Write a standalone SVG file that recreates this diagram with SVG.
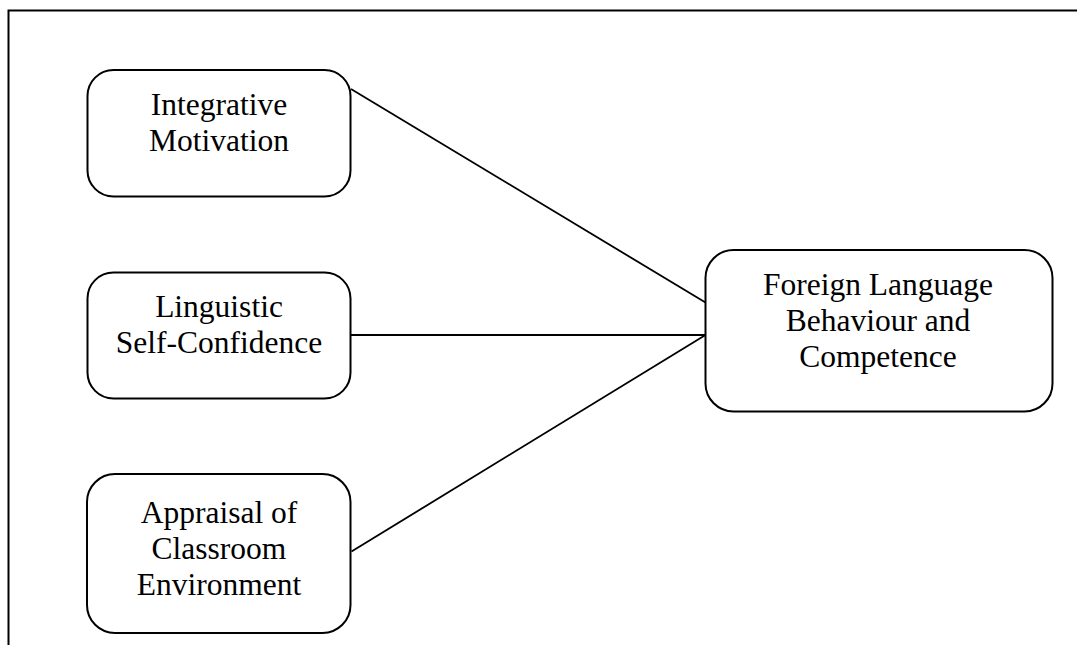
<svg xmlns="http://www.w3.org/2000/svg" width="1077" height="645" viewBox="0 0 1077 645">
<style>
.box{fill:#fff;stroke:#000;stroke-width:2}
.lbl{font-family:"Liberation Serif","Times New Roman",serif;font-size:31.5px;fill:#000;text-anchor:middle}
.ln{stroke:#000;stroke-width:1.8;fill:none}
</style>
<rect width="1077" height="645" fill="#fff"/>
<path d="M8.5,645 V10.5 H1077" fill="none" stroke="#000" stroke-width="2"/>
<g id="connectors">
<line class="ln" x1="351" y1="89" x2="705.5" y2="302.5"/>
<line class="ln" x1="351" y1="335" x2="705.5" y2="335"/>
<line class="ln" x1="351.5" y1="551.5" x2="705.5" y2="335"/>
</g>
<g id="n1">
<rect class="box" x="87.5" y="70" width="263" height="126.5" rx="26"/>
<text class="lbl" x="219" y="115">Integrative</text>
<text class="lbl" x="219" y="151">Motivation</text>
</g>
<g id="n2">
<rect class="box" x="87.5" y="272.5" width="263" height="126" rx="26"/>
<text class="lbl" x="219" y="317">Linguistic</text>
<text class="lbl" x="219" y="353">Self-Confidence</text>
</g>
<g id="n3">
<rect class="box" x="87" y="474" width="263.5" height="159" rx="28"/>
<text class="lbl" x="219" y="523">Appraisal of</text>
<text class="lbl" x="219" y="559">Classroom</text>
<text class="lbl" x="219" y="595">Environment</text>
</g>
<g id="n4">
<rect class="box" x="705.5" y="250" width="347" height="161.5" rx="28"/>
<text class="lbl" x="878" y="295">Foreign Language</text>
<text class="lbl" x="878" y="331">Behaviour and</text>
<text class="lbl" x="878" y="367">Competence</text>
</g>
</svg>
